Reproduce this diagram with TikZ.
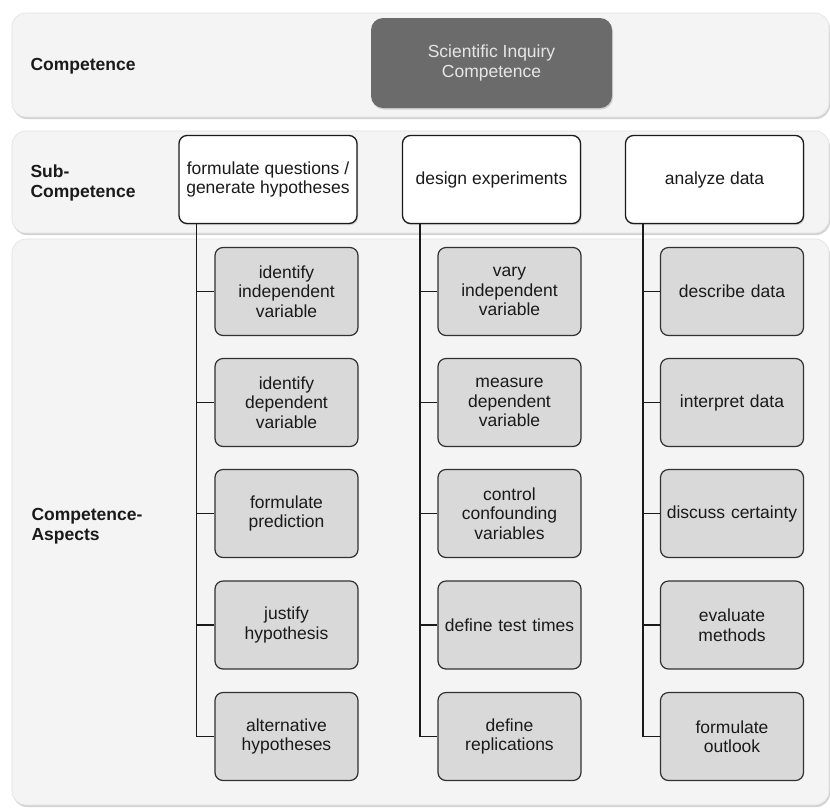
\documentclass[tikz,border=0pt]{standalone}
\usepackage{fontspec}
\setmainfont{Liberation Sans}
\usetikzlibrary{shadows}
\definecolor{bandfill}{HTML}{F4F4F4}
\definecolor{bandline}{HTML}{E2E2E2}
\definecolor{aspfill}{HTML}{D9D9D9}
\definecolor{darkbox}{HTML}{6B6B6B}
\definecolor{lighttext}{HTML}{E6E6E6}
\definecolor{ink}{HTML}{1A1A1A}
\begin{document}
\begin{tikzpicture}[x=1pt,y=-1pt,
  every node/.style={font=\fontsize{17.5}{19.5}\selectfont, text=ink},
  band/.style={fill=bandfill, draw=bandline, line width=0.6pt, rounded corners=14pt,
    drop shadow={shadow xshift=1pt, shadow yshift=-2pt, opacity=0.35, fill=gray}},
  topbox/.style={fill=darkbox, draw=none, rounded corners=12pt, inner sep=0pt,
    minimum width=241pt, minimum height=90pt, align=center, text=lighttext,
    drop shadow={shadow xshift=1pt, shadow yshift=-1.5pt, opacity=0.3, fill=gray}},
  subbox/.style={fill=white, draw=ink, line width=1.3pt, rounded corners=8pt, inner sep=0pt,
    minimum width=178pt, minimum height=88pt, align=center,
    drop shadow={shadow xshift=1pt, shadow yshift=-1.5pt, opacity=0.3, fill=gray}},
  aspbox/.style={fill=aspfill, draw=ink!90, line width=1.2pt, rounded corners=8pt, inner sep=0pt,
    minimum width=143pt, minimum height=88pt, align=center, text width=140pt},
  lbl/.style={anchor=west, align=left, font=\fontsize{17.5}{19.5}\selectfont\bfseries},
  conn/.style={draw=ink, line width=1.3pt}
]
\useasboundingbox (0,0) rectangle (830,807);
\fill[white] (0,0) rectangle (830,807);

% bands
\draw[band] (12,13) rectangle (829,117);
\draw[band] (12,131) rectangle (829,233);
\draw[band] (12,239) rectangle (829,805);

% row labels
\node[lbl] (l1) at (27,66) {Competence};
\node[lbl] (l2) at (27,183) {Sub-\\Competence};
\node[lbl] (l3) at (28,526) {Competence-\\Aspects};

% top
\node[topbox] (top) at (491.5,63) {Scientific Inquiry\\Competence};

% sub-competences
\node[subbox] (s1) at (268,179.5) {formulate questions /\\generate hypotheses};
\node[subbox] (s2) at (491.5,179.5) {design experiments};
\node[subbox] (s3) at (714.5,179.5) {analyze data};

% aspects column 1
\node[aspbox] (a11) at (286.5,291.5) {identify\\independent\\variable};
\node[aspbox] (a12) at (286.5,402.5) {identify\\dependent\\variable};
\node[aspbox] (a13) at (286.5,513.5) {formulate\\prediction};
\node[aspbox] (a14) at (286.5,625) {justify\\hypothesis};
\node[aspbox] (a15) at (286.5,736.5) {alternative\\hypotheses};

% aspects column 2
\node[aspbox] (a21) at (509.5,291.5) {vary\\independent\\variable};
\node[aspbox] (a22) at (509.5,402.5) {measure\\dependent\\variable};
\node[aspbox] (a23) at (509.5,513.5) {control\\confounding\\variables};
\node[aspbox] (a24) at (509.5,625) {define test times};
\node[aspbox] (a25) at (509.5,736.5) {define\\replications};

% aspects column 3
\node[aspbox] (a31) at (732,291.5) {describe data};
\node[aspbox] (a32) at (732,402.5) {interpret data};
\node[aspbox] (a33) at (732,513.5) {discuss certainty};
\node[aspbox] (a34) at (732,625) {evaluate\\methods};
\node[aspbox] (a35) at (732,736.5) {formulate\\outlook};

% connectors
\foreach \c in {1,2,3}{
  \foreach \r in {1,...,5}{
    \draw[conn] (s\c.south west) ++(18,0) |- (a\c\r.west);
  }
}
\end{tikzpicture}
\end{document}
